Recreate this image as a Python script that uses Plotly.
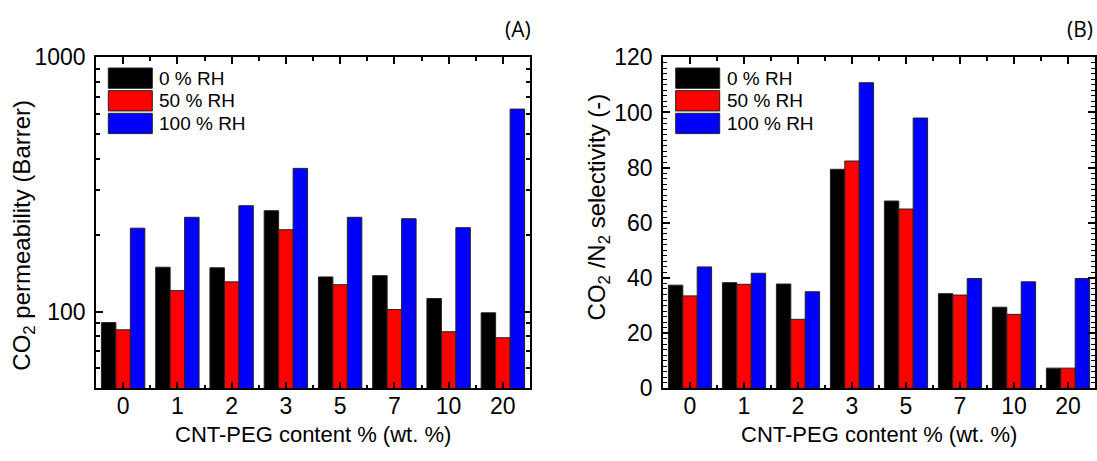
import plotly.graph_objects as go

W, H = 1097, 461

categories = ["0", "1", "2", "3", "5", "7", "10", "20"]
series_names = ["0 % RH", "50 % RH", "100 % RH"]
colors = ["#000000", "#ff0000", "#0000ff"]

perm_0 = [90.6, 149.6, 148.8, 249.5, 137.0, 138.6, 112.7, 99.0]
perm_50 = [84.9, 121.0, 131.0, 210.0, 127.7, 102.0, 83.4, 79.0]
perm_100 = [213.0, 235.0, 261.0, 366.0, 235.0, 232.0, 214.0, 626.0]

sel_0 = [37.4, 38.3, 37.8, 79.4, 67.9, 34.3, 29.4, 7.3]
sel_50 = [33.5, 37.7, 25.0, 82.4, 65.0, 33.8, 26.8, 7.3]
sel_100 = [44.0, 41.7, 35.0, 110.8, 98.0, 39.8, 38.6, 39.8]

FONT = "Arial, 'Liberation Sans', sans-serif"
xpos = list(range(len(categories)))

fig = go.Figure()
for name, col, vals in zip(series_names, colors, [perm_0, perm_50, perm_100]):
    fig.add_trace(go.Bar(x=xpos, y=vals, name=name, marker=dict(color=col, line=dict(color="#222222", width=1)),
                         xaxis="x", yaxis="y", showlegend=False))
for name, col, vals in zip(series_names, colors, [sel_0, sel_50, sel_100]):
    fig.add_trace(go.Bar(x=xpos, y=vals, name=name, marker=dict(color=col, line=dict(color="#222222", width=1)),
                         xaxis="x2", yaxis="y2", showlegend=False))

def px_x(p):
    return p / W

def px_y(p):
    return 1 - p / H

L1, R1 = 96, 530
L2, R2 = 663, 1095
TOP, BOT = 47, 397.7

xcommon = dict(
    range=[-0.5, len(categories) - 0.5], tickmode="array", tickvals=xpos, ticktext=categories,
    ticks="inside", ticklen=7, tickwidth=1.5, tickcolor="black",
    showline=True, linewidth=1.5, linecolor="black", mirror="allticks",
    showgrid=False, zeroline=False, ticklabelstandoff=-4,
    tickfont=dict(family=FONT, size=23, color="black"),
    minor=dict(tickmode="linear", tick0=0.5, dtick=1, ticks="inside", ticklen=4, tickwidth=1.5,
               tickcolor="black", showgrid=False),
)

fig.update_layout(
    width=W, height=H, margin=dict(l=0, r=0, t=0, b=0),
    paper_bgcolor="white", plot_bgcolor="white",
    barmode="group", bargap=0.2, bargroupgap=0,
    font=dict(family=FONT, color="black"),
    xaxis=dict(domain=[px_x(L1), px_x(R1)], anchor="y", **xcommon),
    xaxis2=dict(domain=[px_x(L2), px_x(R2)], anchor="y2", **xcommon),
    yaxis=dict(
        domain=[px_y(BOT), px_y(TOP)], anchor="x", type="log", range=[1.69897, 3.0],
        tickmode="array", tickvals=[100, 1000], ticktext=["100", "1000"],
        ticks="inside", ticklen=7, tickwidth=1.5, tickcolor="black",
        showline=True, linewidth=1.5, linecolor="black", mirror="allticks",
        showgrid=False, zeroline=False, ticklabelstandoff=4,
        tickfont=dict(family=FONT, size=23, color="black"),
        minor=dict(tickmode="array", tickvals=[60, 70, 80, 90, 200, 300, 400, 500, 600, 700, 800, 900],
                   ticks="inside", ticklen=4, tickwidth=1.5, tickcolor="black", showgrid=False),
    ),
    yaxis2=dict(
        domain=[px_y(BOT), px_y(TOP)], anchor="x2", range=[0, 120],
        tickmode="linear", tick0=0, dtick=20,
        ticks="inside", ticklen=7, tickwidth=1.5, tickcolor="black",
        showline=True, linewidth=1.5, linecolor="black", mirror="allticks",
        showgrid=False, zeroline=False, ticklabelstandoff=4,
        tickfont=dict(family=FONT, size=23, color="black"),
        minor=dict(tickmode="linear", tick0=0, dtick=2, ticks="inside", ticklen=4, tickwidth=1.2,
                   tickcolor="black", showgrid=False),
    ),
)

ann = []
# Axis titles
for (a, b) in [(L1, R1), (L2, R2)]:
    ann.append(dict(text="CNT-PEG content % (wt. %)", x=px_x((a + b) / 2), y=px_y(447), xref="paper", yref="paper",
                    xanchor="center", yanchor="middle", showarrow=False, font=dict(family=FONT, size=22)))
ann.append(dict(text="CO<sub>2</sub> permeability (Barrer)", x=px_x(24), y=px_y(236), xref="paper", yref="paper",
                xanchor="center", yanchor="middle", textangle=-90, showarrow=False, font=dict(family=FONT, size=24)))
ann.append(dict(text="CO<sub>2</sub> /N<sub>2</sub> selectivity (-)", x=px_x(598), y=px_y(206), xref="paper", yref="paper",
                xanchor="center", yanchor="middle", textangle=-90, showarrow=False, font=dict(family=FONT, size=24)))
# Panel labels
ann.append(dict(text="(A)", x=px_x(518), y=px_y(17), xref="paper", yref="paper", xanchor="center", yanchor="middle",
                showarrow=False, font=dict(family="'Open Sans', sans-serif", size=21)))
ann.append(dict(text="(B)", x=px_x(1080), y=px_y(17), xref="paper", yref="paper", xanchor="center", yanchor="middle",
                showarrow=False, font=dict(family="'Open Sans', sans-serif", size=21)))

# Custom legends (large swatches as in the reference)
shapes = []
sw_w, sw_h, step, y0 = 44, 21.5, 24, 58.3
for (sx, tx) in [(108.3, 157.3), (675.7, 725)]:
    for i, (name, col) in enumerate(zip(series_names, colors)):
        top = y0 + i * step
        shapes.append(dict(type="rect", xref="paper", yref="paper",
                           x0=px_x(sx), x1=px_x(sx + sw_w), y0=px_y(top + sw_h), y1=px_y(top),
                           fillcolor=col, line=dict(color="#222222", width=1)))
        ann.append(dict(text=name, x=px_x(tx), y=px_y(top + sw_h / 2), xref="paper", yref="paper",
                        xanchor="left", yanchor="middle", showarrow=False, font=dict(family=FONT, size=19)))

fig.update_layout(annotations=ann, shapes=shapes)
fig.write_html("out.html")
